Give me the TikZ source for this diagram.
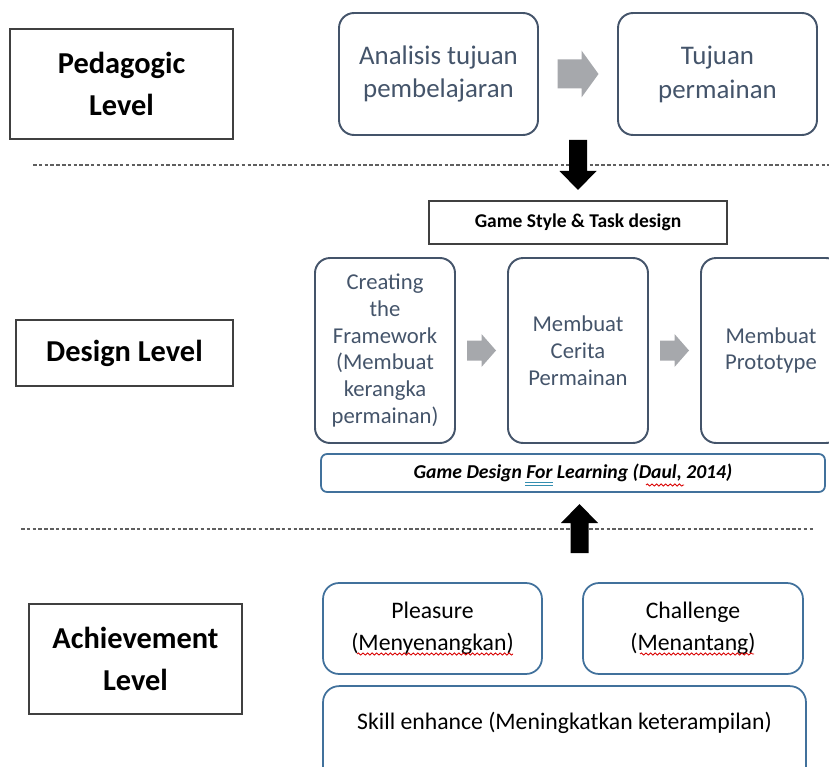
\documentclass[tikz,border=0pt]{standalone}
\usepackage{fontspec}
\setmainfont{Carlito}
\usetikzlibrary{calc,decorations.pathmorphing}
\definecolor{slate}{RGB}{68,84,106}
\definecolor{edgeblue}{RGB}{65,113,156}
\definecolor{blockgray}{RGB}{166,168,172}
\definecolor{framegray}{RGB}{64,64,64}
\definecolor{dashgray}{RGB}{95,95,95}

\tikzset{
  levelbox/.style={draw=framegray, line width=0.8pt, align=center,
    font=\bfseries\fontsize{17.3}{24.4}\selectfont},
  phasebox/.style={draw=slate, line width=1.1pt, rounded corners=0.3cm,
    text=slate, align=center},
  goalbox/.style={draw=edgeblue, line width=1pt, rounded corners=0.32cm,
    align=center, font=\fontsize{13.5}{18}\selectfont},
  levelline/.style={dashgray, line width=0.6pt, dash pattern=on 2pt off 1.3pt},
  typo/.style={red!85!black, line width=0.5pt, decorate,
    decoration={snake, amplitude=0.6pt, segment length=2.6pt}},
  % block arrow pointing right: length, half shaft, half head, head length
  pics/blockarrow/.style n args={4}{code={
    \fill (-#1/2,-#2) -- (#1/2-#4,-#2) -- (#1/2-#4,-#3) -- (#1/2,0)
      -- (#1/2-#4,#3) -- (#1/2-#4,#2) -- (-#1/2,#2) -- cycle;
  }}
}

\begin{document}
\begin{tikzpicture}[x=0.02cm, y=-0.02cm]
  \clip (0,0) rectangle (829,767);

  % levels on the left
  \node[levelbox, minimum width=4.46cm, minimum height=2.2cm] (ped) at (121.5,84) {Pedagogic\\Level};
  \node[levelbox, minimum width=4.34cm, minimum height=1.32cm] (des) at (124.5,353) {Design Level};
  \node[levelbox, minimum width=4.26cm, minimum height=2.2cm] (ach) at (135.5,659) {Achievement\\Level};

  \draw[levelline] (33,165) -- (829,165);
  \draw[levelline] (21,529) -- (813,529);

  % pedagogic level
  \node[phasebox, minimum width=3.98cm, minimum height=2.44cm,
    font=\fontsize{15.3}{19.3}\selectfont] (ana) at (438.5,74) {Analisis tujuan\\pembelajaran};
  \node[phasebox, minimum width=3.98cm, minimum height=2.44cm,
    font=\fontsize{15.3}{19.3}\selectfont] (tuj) at (717.5,74) {Tujuan\\permainan};
  \pic[fill=blockgray] at ($(ana.east)!0.5!(tuj.west)$) {blockarrow={41}{14.5}{23.5}{17}};

  \pic[fill=black, rotate=-90] at (578,165) {blockarrow={50}{9}{18.5}{19}};

  % design level
  \node[draw=framegray, line width=0.8pt, minimum width=5.96cm, minimum height=0.86cm,
    font=\bfseries\fontsize{11.1}{13}\selectfont] (gstyle) at (578,222.5) {Game Style \& Task design};

  \node[phasebox, minimum width=2.8cm, minimum height=3.7cm,
    font=\fontsize{12.9}{15.3}\selectfont] (frame) at (385,350.5)
    {Creating\\the\\Framework\\(Membuat\\kerangka\\permainan)};
  \node[phasebox, minimum width=2.8cm, minimum height=3.7cm,
    font=\fontsize{12.9}{15.3}\selectfont] (story) at (578,350.5) {Membuat\\Cerita\\Permainan};
  \node[phasebox, minimum width=2.8cm, minimum height=3.7cm,
    font=\fontsize{12.9}{15.3}\selectfont] (proto) at (771,350.5) {Membuat\\Prototype};

  \foreach \a/\b in {frame/story, story/proto}
    \pic[fill=blockgray] at ($(\a.east)!0.5!(\b.west)$) {blockarrow={29}{10}{16.5}{14.5}};

  \node[draw=edgeblue, line width=1pt, rounded corners=0.12cm, minimum width=10.08cm,
    minimum height=0.76cm, font=\bfseries\itshape\fontsize{11.2}{13}\selectfont] (gdl) at (573,473)
    {Game Design For Learning (Daul, 2014)};

  \pic[fill=black, rotate=90] at (579.5,528.5) {blockarrow={49}{9}{18.5}{19}};

  % achievement level
  \node[goalbox, minimum width=4.38cm, minimum height=1.82cm] (fun) at (432.5,628.5)
    {Pleasure\\(Menyenangkan)};
  \node[goalbox, minimum width=4.4cm, minimum height=1.82cm] (chal) at (693,628.5)
    {Challenge\\(Menantang)};
  \node[goalbox, anchor=base, minimum width=9.66cm, inner ysep=0pt,
    text height=0.87cm, text depth=1.2cm] (skill) at (564.5,729.6)
    {Skill enhance (Meningkatkan keterampilan)};

  % spell-check marks
  \draw[typo] (357,654) -- (513,654);
  \draw[typo] (640,654) -- (754,654);
  \draw[typo] (646,485) -- (684,485);
  \draw[edgeblue!80!cyan, line width=0.4pt] (525,482.5) -- (553,482.5) (525,485) -- (553,485);
\end{tikzpicture}
\end{document}
